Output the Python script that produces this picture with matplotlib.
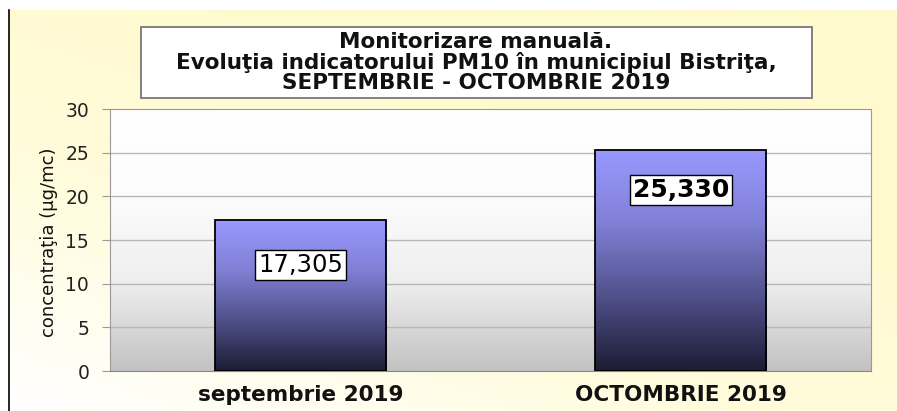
import numpy as np
import matplotlib.pyplot as plt
from matplotlib.patches import Rectangle
from matplotlib.colors import LinearSegmentedColormap

# data
categories = ["septembrie 2019", "OCTOMBRIE 2019"]
values = [17.305, 25.330]
value_labels = ["17,305", "25,330"]
label_bold = [False, True]
title_lines = ["Monitorizare manuală.",
               "Evoluţia indicatorului PM10 în municipiul Bistriţa,",
               "SEPTEMBRIE - OCTOMBRIE 2019"]
ylabel = "concentraţia (µg/mc)"

plt.rcParams["font.family"] = ["DejaVu Sans"]

fig = plt.figure(figsize=(8.97, 4.11), dpi=100)
fig.patch.set_facecolor("white")

# pale yellow page background with a soft gradient
bg = fig.add_axes([9 / 897, 0, 1 - 9 / 897, 401 / 411], zorder=-10)
yy, xx = np.mgrid[0:1:200j, 0:1:400j]
t = np.clip(0.6 * xx + 0.8 * yy, 0, 1)
bg_cmap = LinearSegmentedColormap.from_list("bg", ["#ffffff", "#fffcdc", "#fffacd"])
bg.imshow(t, cmap=bg_cmap, aspect="auto", origin="lower", extent=[0, 1, 0, 1])
bg.set_axis_off()
fig.add_artist(plt.Line2D([8.5 / 897, 8.5 / 897], [0, 401 / 411],
                          color="black", lw=1.2, transform=fig.transFigure))

ax = fig.add_axes([110 / 897, 40 / 411, 761 / 897, 262 / 411])

# plot area gradient: white at top, grey at bottom
pa_cmap = LinearSegmentedColormap.from_list("pa", ["#c2c2c2", "#eeeeee", "#fcfcfc", "#ffffff"])
ax.imshow(np.linspace(0, 1, 256).reshape(-1, 1), cmap=pa_cmap, aspect="auto",
          origin="lower", extent=[-0.5, 1.5, 0, 30], zorder=0)

for y in range(5, 30, 5):
    ax.axhline(y, color="#b8b8b8", lw=1, zorder=1)

bar_cmap = LinearSegmentedColormap.from_list("bar", ["#1c1c33", "#50508a", "#8080d6", "#9999ff"])
x = np.arange(len(categories))
bars = ax.bar(x, values, width=0.45, color="none", edgecolor="black", lw=1.3, zorder=3)
for b in bars:
    x0, w, h = b.get_x(), b.get_width(), b.get_height()
    im = ax.imshow(np.linspace(0, 1, 256).reshape(-1, 1), cmap=bar_cmap, aspect="auto",
                   origin="lower", extent=[x0, x0 + w, 0, h], zorder=2)
    im.set_clip_path(b)
ax.set_xlim(-0.5, 1.5)
ax.set_ylim(0, 30)

label_y = [12.1, 20.7]
label_size = [17.5, 18]
for xi, lbl, bold, ly, fs in zip(x, value_labels, label_bold, label_y, label_size):
    ax.text(xi, ly, lbl, ha="center", va="center", fontsize=fs,
            fontweight="bold" if bold else "normal", zorder=5,
            bbox=dict(boxstyle="square,pad=0.12", fc="white", ec="black", lw=1))

ax.set_yticks(range(0, 31, 5))
ax.set_xticks(x)
ax.set_xticklabels(categories, fontsize=15.5, fontweight="bold")
ax.tick_params(axis="y", labelsize=13.5, length=6, color="#999999", pad=9,
               labelcolor="#222222")
ax.tick_params(axis="x", length=0, pad=10, labelcolor="#111111")
for s in ["top", "right", "left"]:
    ax.spines[s].set_color("#999999")
ax.spines["bottom"].set_color("#888888")

fig.text(49 / 897, 1 - 242 / 411, ylabel, rotation=90, ha="center", va="center",
         fontsize=13, color="#111111")

# title box, one line at a time so the spacing is tight like the original
fig.add_artist(Rectangle((141 / 897, 1 - 98 / 411), 671 / 897, 71 / 411,
                         transform=fig.transFigure, fc="white", ec="#777777", lw=1.3,
                         zorder=4))
for i, line in enumerate(title_lines):
    fig.text(476 / 897, 1 - (42 + 20.5 * i) / 411, line, ha="center", va="center",
             fontsize=15.5, fontweight="bold", color="#111111", zorder=5)

fig.savefig("out.png", dpi=100)
